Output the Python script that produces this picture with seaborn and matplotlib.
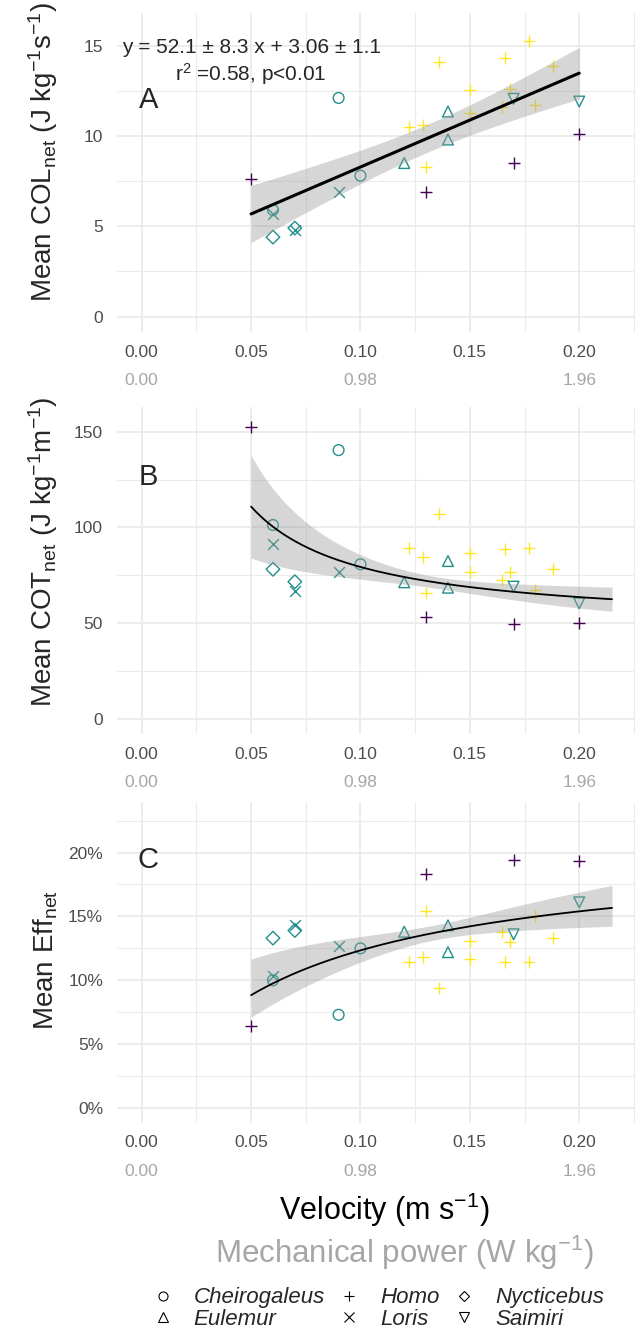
import numpy as np
import pandas as pd
import matplotlib
matplotlib.use("Agg")
import matplotlib.pyplot as plt
from matplotlib.markers import MarkerStyle
from matplotlib.lines import Line2D
from matplotlib.ticker import FuncFormatter, MultipleLocator
import seaborn as sns

# data (one row per point)
genus = ['Homo', 'Cheirogaleus', 'Loris', 'Nycticebus', 'Nycticebus', 'Loris', 'Loris',
         'Cheirogaleus', 'Cheirogaleus', 'Eulemur', 'Homo', 'Homo', 'Homo', 'Homo', 'Homo',
         'Eulemur', 'Eulemur', 'Homo', 'Homo', 'Homo', 'Homo', 'Homo', 'Saimiri', 'Homo',
         'Homo', 'Homo', 'Homo', 'Saimiri', 'Homo']
group = ['g1', 'g2', 'g2', 'g2', 'g2', 'g2', 'g2', 'g2', 'g2', 'g2', 'g3', 'g3', 'g3', 'g1', 'g3',
         'g2', 'g2', 'g3', 'g3', 'g3', 'g3', 'g3', 'g2', 'g1', 'g3', 'g3', 'g3', 'g2', 'g1']
velocity = [0.05, 0.06, 0.06, 0.06, 0.07, 0.07, 0.09, 0.09, 0.10, 0.12, 0.122, 0.1285, 0.13, 0.13,
            0.1357, 0.14, 0.14, 0.15, 0.15, 0.166, 0.1685, 0.1646, 0.17, 0.17, 0.177, 0.18, 0.188,
            0.20, 0.20]
col_net = [7.6, 5.9, 5.7, 4.4, 4.9, 4.8, 6.9, 12.1, 7.8, 8.5, 10.5, 10.6, 8.3, 6.9, 14.1,
           11.35, 9.8, 12.55, 11.25, 14.3, 12.6, 11.6, 12.05, 8.5, 15.25, 11.7, 13.85, 11.9, 10.1]
cot_net = [152.6, 101.3, 91.4, 78.2, 71.7, 67.0, 76.9, 140.4, 80.8, 71.4, 89.5, 84.7, 65.6, 53.1,
           107.0, 82.5, 68.6, 86.5, 76.6, 88.6, 76.6, 72.6, 69.1, 49.6, 89.5, 67.4, 78.2, 60.4, 50.3]
eff_net = [6.4, 10.0, 10.3, 13.3, 13.9, 14.3, 12.7, 7.3, 12.5, 13.8, 11.4, 11.8, 15.4, 18.3, 9.4,
           12.2, 14.3, 11.7, 13.1, 11.4, 13.0, 13.8, 13.6, 19.4, 11.4, 15.0, 13.3, 16.1, 19.3]

# COT ~ a + b/v curve and its band (panel C is 980/COT)
cot_fit = [47.9, 3.15]
cot_band = [9.0, 4.4, 7.3]   # hw^2 = c0 + c1*(1/v - u0)^2

genus_order = ['Cheirogaleus', 'Eulemur', 'Homo', 'Loris', 'Nycticebus', 'Saimiri']
genus_marker = {'Cheirogaleus': 'o', 'Eulemur': '^', 'Homo': '+', 'Loris': 'x',
                'Nycticebus': 'D', 'Saimiri': 'v'}
group_color = {'g1': '#440154', 'g2': '#21908C', 'g3': '#FDE725'}
sec_ticks = [0.00, 0.98, 1.96]

df = pd.DataFrame({'genus': genus, 'group': group, 'v': velocity,
                   'col': col_net, 'cot': cot_net, 'eff': eff_net})

sns.set_style('white')
plt.rcParams['font.family'] = ['Liberation Sans', 'DejaVu Sans']
plt.rcParams['mathtext.fontset'] = 'custom'
plt.rcParams['mathtext.rm'] = 'Liberation Sans'
plt.rcParams['mathtext.it'] = 'Liberation Sans:italic'

T975 = 2.052  # t quantile, 27 df


def lm_band(x, y, grid):
    # straight line fit with 95% confidence band
    X = np.column_stack([np.ones(len(x)), x])
    beta = np.linalg.lstsq(X, y, rcond=None)[0]
    res = y - X @ beta
    cov = (res @ res / (len(x) - 2)) * np.linalg.inv(X.T @ X)
    G = np.column_stack([np.ones(len(grid)), grid])
    fit = G @ beta
    se = np.sqrt(np.einsum('ij,jk,ik->i', G, cov, G))
    return fit, fit - T975 * se, fit + T975 * se


def cot_curve(grid):
    u = 1 / grid
    fit = cot_fit[0] + cot_fit[1] * u
    hw = np.sqrt(cot_band[0] + cot_band[1] * (u - cot_band[2]) ** 2)
    return fit, fit - hw, fit + hw


fig = plt.figure(figsize=(6.37, 13.33), dpi=100)
W, H = 637, 1333
left, right = 117, 635

panels = [
    # column, top px, bottom px, ylim, major, minor, ylabel, letter y, label y frac
    ('col', 13, 332, (-0.85, 16.8), 5, 2.5,
     'Mean COL$_{\\mathrm{net}}$ (J kg$^{-1}$s$^{-1}$)', 12.0, 0.564),
    ('cot', 407, 734, (-7.8, 162.9), 50, 25,
     'Mean COT$_{\\mathrm{net}}$ (J kg$^{-1}$m$^{-1}$)', 126.4, 0.557),
    ('eff', 801.7, 1122.6, (-1.14, 23.98), 5, 2.5,
     'Mean Eff$_{\\mathrm{net}}$', 19.4, 0.507),
]
letters = ['A', 'B', 'C']

x = df['v'].to_numpy()
for i, (ycol, top, bot, ylim, major, minor, ylab, ly, lyf) in enumerate(panels):
    ax = fig.add_axes([left / W, 1 - bot / H, (right - left) / W, (bot - top) / H])
    h_px = bot - top

    # points
    for g in genus_order:
        for grp, c in group_color.items():
            sub = df[(df['genus'] == g) & (df['group'] == grp)]
            if sub.empty:
                continue
            m = genus_marker[g]
            if m in ('+', 'x'):
                sns.scatterplot(data=sub, x='v', y=ycol, marker=m, color=c, s=85 if m == '+' else 60,
                                linewidth=1.0, ax=ax, legend=False, zorder=3)
            else:
                sns.scatterplot(data=sub, x='v', y=ycol, marker=MarkerStyle(m, fillstyle='none'),
                                color=c, s=60 if m != 'D' else 48, linewidth=1.0, ax=ax,
                                legend=False, zorder=3)

    # fitted curves
    if ycol == 'col':
        grid = np.linspace(0.05, 0.20, 100)
        fit, lo, hi = lm_band(x, df['col'].to_numpy(), grid)
        lw = 2.2
    elif ycol == 'cot':
        grid = np.linspace(0.05, 0.215, 150)
        fit, lo, hi = cot_curve(grid)
        lw = 1.3
    else:
        grid = np.linspace(0.05, 0.215, 150)
        c_fit, c_lo, c_hi = cot_curve(grid)
        fit, lo, hi = 980 / c_fit, 980 / c_hi, 980 / c_lo
        lw = 1.3
    ax.fill_between(grid, lo, hi, color='#999999', alpha=0.4, lw=0, zorder=4)
    sns.lineplot(x=grid, y=fit, color='black', lw=lw, ax=ax, zorder=5)

    ax.set_xlim(-0.0113, 0.2255)
    ax.set_ylim(*ylim)
    ax.xaxis.set_major_locator(MultipleLocator(0.05))
    ax.xaxis.set_minor_locator(MultipleLocator(0.025))
    ax.yaxis.set_major_locator(MultipleLocator(major))
    ax.yaxis.set_minor_locator(MultipleLocator(minor))
    ax.xaxis.set_major_formatter(FuncFormatter(lambda v, p: f'{v:.2f}'))
    if ycol == 'eff':
        ax.yaxis.set_major_formatter(FuncFormatter(lambda v, p: f'{v:.0f}%'))
    ax.grid(which='major', color='#EBEBEB', lw=1.3)
    ax.grid(which='minor', color='#EBEBEB', lw=0.8)
    ax.set_axisbelow(True)
    for s in ax.spines.values():
        s.set_visible(False)
    ax.tick_params(which='both', length=0, labelsize=12.5, labelcolor='#4D4D4D')
    ax.tick_params(axis='x', pad=9)
    ax.tick_params(axis='y', pad=10)
    ax.set_xlabel('')
    ax.set_ylabel(ylab, fontsize=20)
    ax.yaxis.set_label_coords((60 - left) / (right - left), lyf)

    # secondary axis: mechanical power
    sec = ax.secondary_xaxis(-30 / h_px, functions=(lambda v: v * 9.8, lambda p: p / 9.8))
    sec.set_xticks(sec_ticks)
    sec.xaxis.set_major_formatter(FuncFormatter(lambda v, p: f'{v:.2f}'))
    sec.tick_params(length=0, pad=8, labelsize=12.5, labelcolor='#A6A6A6')
    sec.spines['bottom'].set_visible(False)

    ax.text(0.003, ly, letters[i], fontsize=21, ha='center', va='center')
    if ycol == 'col':
        ax.text(0.05, 14.9, 'y = 52.1 \u00b1 8.3 x + 3.06 \u00b1 1.1', fontsize=15,
                ha='center', va='center')
        ax.text(0.05, 13.4, 'r$^2$ =0.58, p<0.01', fontsize=15, ha='center', va='center')

fig.text(384 / W, 1 - 1220 / H, 'Velocity (m s$^{-1}$)', fontsize=22, ha='center',
         va='baseline', color='black')
fig.text(404 / W, 1 - 1263 / H, 'Mechanical power (W kg$^{-1}$)', fontsize=22.5, ha='center',
         va='baseline', color='#A6A6A6')

handles = []
for g in genus_order:
    m = genus_marker[g]
    handles.append(Line2D([], [], ls='none', marker=m, color='black', markerfacecolor='none',
                          markersize=6.5 if m != 'D' else 5.5, mew=0.8))
fig.legend(handles, genus_order, ncol=3, loc='center', frameon=False,
           bbox_to_anchor=(379 / W, 1 - 1308.5 / H),
           prop={'style': 'italic', 'size': 16},
           handlelength=0.8, handletextpad=1.0, columnspacing=0.7, labelspacing=0.02,
           borderpad=0)

fig.savefig('out.png', dpi=100)
